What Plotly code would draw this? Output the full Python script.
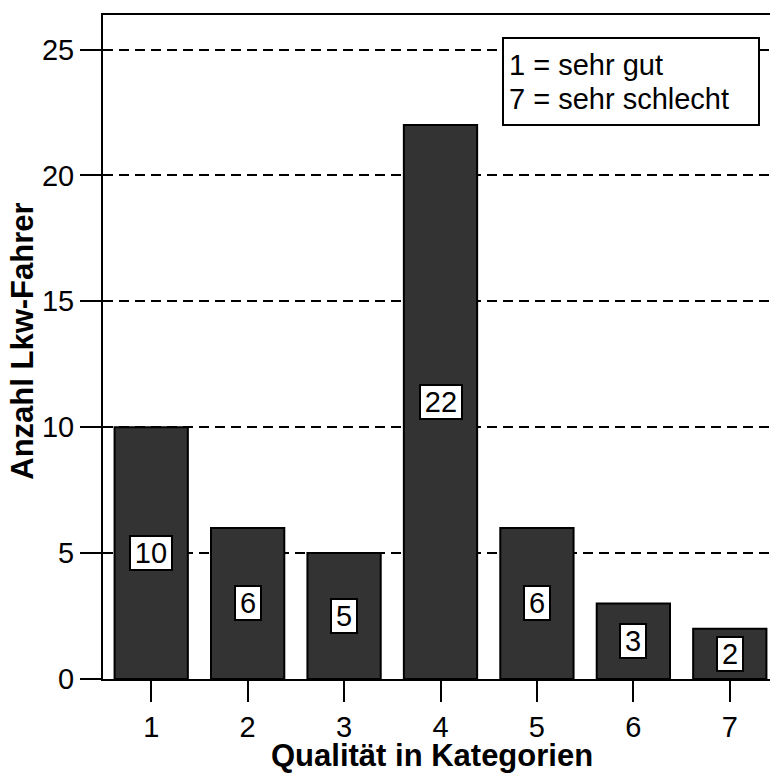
import plotly.graph_objects as go

categories = [1, 2, 3, 4, 5, 6, 7]
counts = [10, 6, 5, 22, 6, 3, 2]
y_ticks = [0, 5, 10, 15, 20, 25]
legend_lines = ["1 = sehr gut", "7 = sehr schlecht"]
x_title = "Qualität in Kategorien"
y_title = "Anzahl Lkw-Fahrer"

FONT = "Liberation Sans, Arial, sans-serif"
FS = 29

fig = go.Figure()
fig.add_trace(go.Bar(
    x=categories, y=counts,
    marker=dict(color="#333333", line=dict(color="black", width=2)),
    hoverinfo="skip",
))

for c, v in zip(categories, counts):
    w = 24 if len(str(v)) == 1 else 40
    fig.add_annotation(
        x=c, y=v / 2, xref="x", yref="y", text=str(v), showarrow=False,
        font=dict(family=FONT, size=FS, color="black"),
        bgcolor="white", bordercolor="black", borderwidth=2, borderpad=0,
        width=w, height=32,
    )

# legend-style note box
fig.add_shape(type="rect", xref="paper", yref="paper",
              x0=(503 - 103) / 667, x1=(759 - 103) / 667,
              y0=(679.5 - 125) / 664.5, y1=(679.5 - 38) / 664.5,
              fillcolor="white", line=dict(color="black", width=2), layer="above")
for i, line in enumerate(legend_lines):
    yc = [65, 99][i]
    fig.add_annotation(
        xref="paper", yref="paper", x=(507 - 103) / 667, y=(679.5 - yc) / 664.5,
        xanchor="left", yanchor="middle", align="left",
        text=line, showarrow=False,
        font=dict(family=FONT, size=FS, color="black"),
    )

# axis titles
fig.add_annotation(
    xref="paper", yref="paper", x=(432 - 103) / 667, y=(679.5 - 756) / 664.5,
    xanchor="center", yanchor="middle", text=x_title, showarrow=False,
    font=dict(family=FONT, size=31, color="black", weight="bold"),
)
fig.add_annotation(
    xref="paper", yref="paper", x=(23 - 103) / 667, y=(679.5 - 342) / 664.5,
    xanchor="center", yanchor="middle", text=y_title, showarrow=False, textangle=-90,
    font=dict(family=FONT, size=31, color="black", weight="bold"),
)

fig.update_layout(
    width=770, height=776,
    margin=dict(l=103, r=0, t=15, b=97),
    paper_bgcolor="white", plot_bgcolor="white",
    showlegend=False, bargap=0.24,
    font=dict(family=FONT, size=FS, color="black"),
)
fig.update_xaxes(
    range=[0.5, 7.417], tickvals=categories, ticktext=[str(c) for c in categories],
    ticks="outside", ticklen=21, tickwidth=2, tickcolor="black",
    showline=True, linecolor="black", linewidth=2, mirror=True,
    showgrid=False, zeroline=False,
    tickfont=dict(family=FONT, size=FS),
)
fig.update_yaxes(
    range=[0, 26.37], tickvals=y_ticks,
    ticks="outside", ticklen=21, tickwidth=2, tickcolor="black",
    showline=True, linecolor="black", linewidth=2, mirror=False,
    showgrid=True, gridcolor="black", gridwidth=2, griddash="10px,6px",
    zeroline=False,
    tickfont=dict(family=FONT, size=FS),
)

fig.write_html("out.html")
